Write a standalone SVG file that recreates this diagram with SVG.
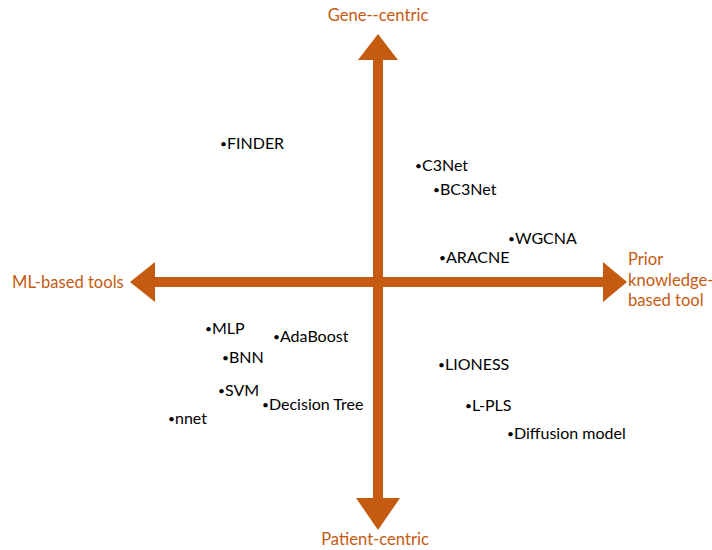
<svg xmlns="http://www.w3.org/2000/svg" width="712" height="550" viewBox="0 0 712 550">
<style>
.axis{fill:#C55A11;stroke:none}
.al{font-family:Lato,"Open Sans","Liberation Sans",sans-serif;font-size:16.6px;fill:#C55A11}
.t{font-family:Lato,"Open Sans","Liberation Sans",sans-serif;font-size:16px;fill:#000}
.b{font-size:12px;baseline-shift:1.5px}
</style>
<rect width="712" height="550" fill="#fff"/>
<g id="axes">
<polygon class="axis" points="378,34 398,60 383,60 383,277 603,277 603,262 627,282 603,302 603,287 383,287 383,498 400,498 378,530 356,498 373,498 373,287 155,287 155,302 130,282 155,262 155,277 373,277 373,60 358,60"/>
</g>
<g id="axis-labels">
<text id="gene-centric" class="al" x="378" y="21" text-anchor="middle">Gene--centric</text>
<text id="patient-centric" class="al" x="375" y="545" text-anchor="middle">Patient-centric</text>
<text id="ml-based" class="al" x="12" y="288">ML-based tools</text>
<text id="prior" class="al" x="628" y="265"><tspan x="628">Prior</tspan><tspan x="628" dy="20.5">knowledge-</tspan><tspan x="628" dy="20.5">based tool</tspan></text>
</g>
<g id="tools">
<text id="finder" class="t" x="220" y="149"><tspan class="b">•</tspan>FINDER</text>
<text id="c3net" class="t" x="415" y="171"><tspan class="b">•</tspan>C3Net</text>
<text id="bc3net" class="t" x="433" y="195"><tspan class="b">•</tspan>BC3Net</text>
<text id="wgcna" class="t" x="508" y="244"><tspan class="b">•</tspan>WGCNA</text>
<text id="aracne" class="t" x="439" y="263"><tspan class="b">•</tspan>ARACNE</text>
<text id="mlp" class="t" x="205" y="334"><tspan class="b">•</tspan>MLP</text>
<text id="adaboost" class="t" x="273" y="342"><tspan class="b">•</tspan>AdaBoost</text>
<text id="bnn" class="t" x="222" y="363"><tspan class="b">•</tspan>BNN</text>
<text id="svm" class="t" x="218" y="396"><tspan class="b">•</tspan>SVM</text>
<text id="decision-tree" class="t" x="262" y="410"><tspan class="b">•</tspan>Decision Tree</text>
<text id="nnet" class="t" x="168" y="424"><tspan class="b">•</tspan>nnet</text>
<text id="lioness" class="t" x="438" y="370"><tspan class="b">•</tspan>LIONESS</text>
<text id="lpls" class="t" x="465" y="411"><tspan class="b">•</tspan>L-PLS</text>
<text id="diffusion" class="t" x="507" y="439"><tspan class="b">•</tspan>Diffusion model</text>
</g>
</svg>
